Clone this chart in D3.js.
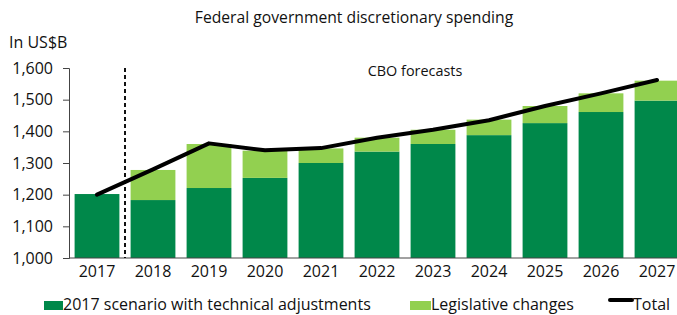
<!DOCTYPE html>
<html><head><meta charset="utf-8">
<script src="https://cdn.jsdelivr.net/npm/d3@7"></script>
<style>body{margin:0;background:#fff;overflow:hidden}svg{display:block;font-family:"Open Sans",sans-serif}</style>
</head><body>
<svg id="c" width="677" height="315"></svg>
<script>
const years = ["2017","2018","2019","2020","2021","2022","2023","2024","2025","2026","2027"];
const baseline = [1202,1183,1221,1253,1300,1336,1360,1388,1426,1461,1497];
const legislative = [0,95,139,86,46,44,45,49,54,59,63];
const total = [1200,1280,1362,1340,1347,1380,1405,1435,1480,1520,1562];
const yTicks = [1000,1100,1200,1300,1400,1500,1600];

const svg = d3.select("#c");
const x = d3.scaleBand().domain(years).range([69,685]).paddingInner(0.2).paddingOuter(0.1);
const y = d3.scaleLinear().domain([1000,1600]).range([258,68]);
const dark = "#00884a", light = "#92d050";

svg.append("text").attr("x",354).attr("y",23).attr("text-anchor","middle").attr("font-size",15.7).attr("fill","#111").text("Federal government discretionary spending");
svg.append("text").attr("x",9).attr("y",48).attr("font-size",16).attr("fill","#111").text("In US$B");

// bars
svg.append("g").selectAll("rect").data(years).join("rect")
  .attr("x",d=>x(d)).attr("width",x.bandwidth())
  .attr("y",(d,i)=>y(baseline[i])).attr("height",(d,i)=>y(1000)-y(baseline[i])).attr("fill",dark);
svg.append("g").selectAll("rect").data(years).join("rect")
  .attr("x",d=>x(d)).attr("width",x.bandwidth())
  .attr("y",(d,i)=>y(baseline[i]+legislative[i])).attr("height",(d,i)=>y(baseline[i])-y(baseline[i]+legislative[i])).attr("fill",light);

// y axis
const ya = svg.append("g").attr("transform","translate(69,0)").call(d3.axisLeft(y).tickValues(yTicks).tickFormat(d3.format(",")).tickSize(6).tickPadding(10));
ya.select(".domain").attr("stroke","#444");
ya.selectAll(".tick line").attr("stroke","#444");
ya.selectAll("text").attr("font-size",16).attr("font-family","Open Sans").attr("fill","#111");

// x axis
const xa = svg.append("g").attr("transform","translate(0,258)").call(d3.axisBottom(x).tickSize(0).tickPadding(8));
xa.select(".domain").attr("stroke","#444").attr("d","M69,0H685");
xa.selectAll("text").attr("font-size",16).attr("font-family","Open Sans").attr("fill","#111");

// dashed line
const dx = (x("2017")+x.bandwidth()+x("2018"))/2;
svg.append("line").attr("x1",dx).attr("x2",dx).attr("y1",y(1600)).attr("y2",y(1000)).attr("stroke","#111").attr("stroke-width",2).attr("stroke-dasharray","4,3");

svg.append("text").attr("x",415).attr("y",76).attr("text-anchor","middle").attr("font-size",14.4).attr("fill","#111").text("CBO forecasts");

// total line
svg.append("path").datum(total).attr("fill","none").attr("stroke","#000").attr("stroke-width",4).attr("stroke-linecap","round").attr("stroke-linejoin","round")
  .attr("d",d3.line().x((d,i)=>x(years[i])+x.bandwidth()/2).y(d=>y(d)));

// legend
const lg = svg.append("g").attr("font-size",16).attr("fill","#111");
lg.append("rect").attr("x",44).attr("y",301).attr("width",19).attr("height",9).attr("fill",dark);
lg.append("text").attr("x",63).attr("y",310).text("2017 scenario with technical adjustments");
lg.append("rect").attr("x",410).attr("y",301).attr("width",21).attr("height",9).attr("fill",light);
lg.append("text").attr("x",431).attr("y",310).text("Legislative changes");
lg.append("line").attr("x1",610).attr("x2",632).attr("y1",300).attr("y2",300).attr("stroke","#000").attr("stroke-width",4).attr("stroke-linecap","round");
lg.append("text").attr("x",633).attr("y",310).text("Total");
</script>
</body></html>
